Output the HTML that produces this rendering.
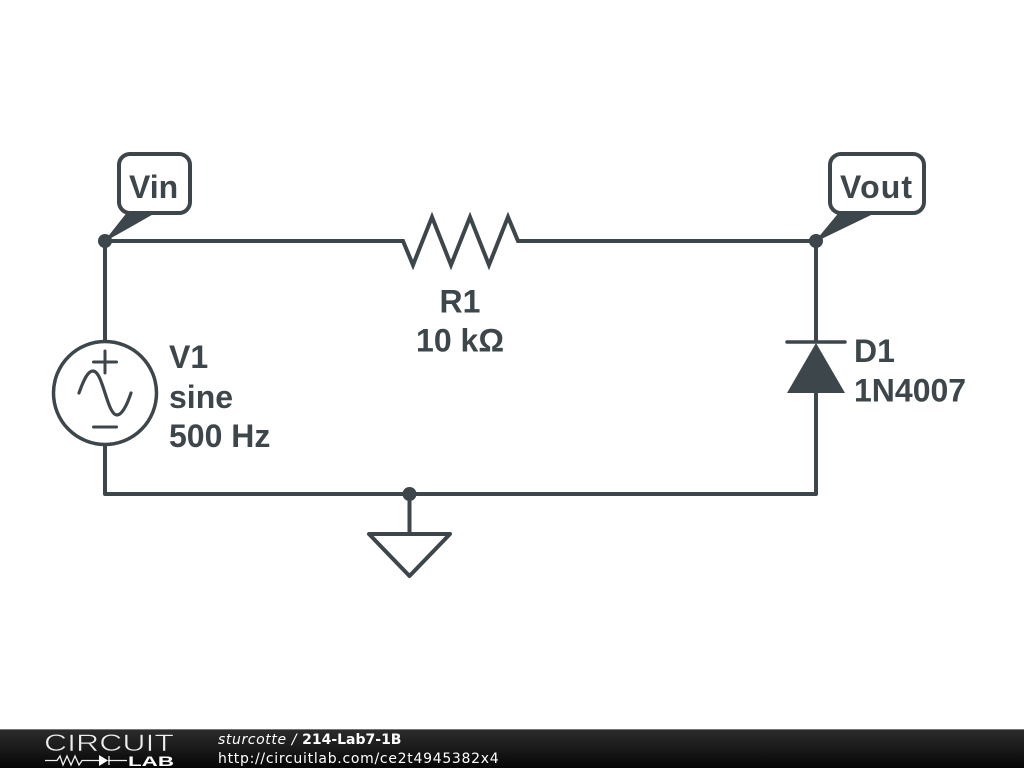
<!DOCTYPE html>
<html>
<head>
<meta charset="utf-8">
<style>
html,body{margin:0;padding:0;background:#fff;width:1024px;height:768px;overflow:hidden}
svg{display:block;position:absolute;left:0;top:0}
</style>
</head>
<body>
<svg width="1024" height="768" viewBox="0 0 1024 768" xmlns="http://www.w3.org/2000/svg">
<defs>
<linearGradient id="bar" x1="0" y1="0" x2="0" y2="1">
<stop offset="0" stop-color="#2c2c2c"/>
<stop offset="0.5" stop-color="#1a1a1a"/>
<stop offset="1" stop-color="#050505"/>
</linearGradient>
</defs>
<rect width="1024" height="768" fill="#fff"/>
<g fill="none" stroke="#3d464b" stroke-width="4" stroke-linecap="round" stroke-linejoin="round">
<!-- wires -->
<path d="M105 241H403L413 265L432 217L451 265L470 217L489 265L508 217L518 241H816V341" stroke-linejoin="miter" stroke-miterlimit="10"/>
<path d="M105 241V341"/>
<path d="M105 445V494H816V393"/>
<path d="M409.500 494V534"/>
<!-- ground -->
<path d="M369 534H450L409.500 576Z"/>
<!-- source -->
<circle cx="105" cy="393" r="51.500" stroke-width="3.500"/>
<path d="M93.500 362H116.500M105 351V373M93.500 427H116.500" stroke-width="3"/>
<path d="M79 393C84 379 88 371 93 371C103 371 107 415 117 415C122 415 127 405 131 393" stroke-width="3.200"/>
<!-- diode bar -->
<path d="M787 342H845" stroke-width="3.500"/>
<!-- labels boxes -->
<rect x="119" y="154" width="71" height="59" rx="11" fill="#fff"/>
<rect x="830" y="154" width="94" height="59" rx="11" fill="#fff"/>
</g>
<g fill="#3d464b" stroke="#3d464b" stroke-width="0">
<path d="M787 393H845L816 343Z"/>
<circle cx="105" cy="241" r="7"/>
<circle cx="816" cy="241" r="7"/>
<circle cx="409.500" cy="494" r="7"/>
<path d="M105 241L128 212H156Z" stroke-width="1"/>
<path d="M816 241L840 212H876Z" stroke-width="1"/>
</g>
<g font-family="'Liberation Sans',sans-serif" font-weight="700" font-size="32" fill="#3d464b">
<text x="129" y="198">Vin</text>
<text x="840" y="198" textLength="72" lengthAdjust="spacing">Vout</text>
<text x="460" y="312.500" text-anchor="middle">R1</text>
<text x="460" y="351.500" text-anchor="middle">10 kΩ</text>
<text x="169" y="368">V1</text>
<text x="169" y="408">sine</text>
<text x="169" y="447">500 Hz</text>
<text x="854" y="362">D1</text>
<text x="854" y="401.500">1N4007</text>
</g>
<!-- footer -->
<rect x="0" y="729" width="1024" height="39" fill="url(#bar)"/>
<rect x="0" y="729" width="1024" height="1" fill="#777"/>
<text x="44" y="751" font-family="'Liberation Sans',sans-serif" font-size="24" fill="#eeeeee" stroke="#202020" stroke-width="0.600" textLength="130" lengthAdjust="spacingAndGlyphs">CIRCUIT</text>
<g fill="none" stroke="#eee" stroke-width="1.300">
<path d="M45 760.500H57L60 756L63 765L67 756L71 765L75 756L79 765L82 760.500H99M108 760.500H127"/>
<path d="M109 756V765"/>
</g>
<path d="M99 755V766L108 760.500Z" fill="#fff"/>
<text x="128" y="766" font-family="'Liberation Sans',sans-serif" font-weight="700" font-size="14" fill="#fff" textLength="46" lengthAdjust="spacingAndGlyphs">LAB</text>
<g font-family="'DejaVu Sans',sans-serif" font-size="14" fill="#fff">
<text x="218" y="744"><tspan font-style="oblique" letter-spacing="0.600">sturcotte / </tspan><tspan font-weight="700">214-Lab7-1B</tspan></text>
<text x="218" y="763" letter-spacing="0.710">http://circuitlab.com/ce2t4945382x4</text>
</g>
</svg>
</body>
</html>
